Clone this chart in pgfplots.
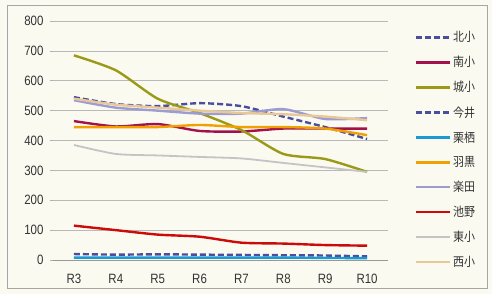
\documentclass[border=0pt]{standalone}
\usepackage{fontspec}
\setmainfont{Liberation Sans}[FakeStretch=0.85]
\newfontfamily\cjk{Noto Sans CJK JP}[FakeStretch=0.88]
\usepackage{pgfplots}
\pgfplotsset{compat=1.18}
\usetikzlibrary{backgrounds}
\definecolor{bgc}{HTML}{FBFAF1}
\definecolor{cNavy}{HTML}{4B4E9C}
\definecolor{cCrim}{HTML}{A3104C}
\definecolor{cOlive}{HTML}{9A9A18}
\definecolor{cCyan}{HTML}{1A9AD4}
\definecolor{cOrange}{HTML}{F0A000}
\definecolor{cLav}{HTML}{9C9CD2}
\definecolor{cRed}{HTML}{CC0A0A}
\definecolor{cGray}{HTML}{C4C4C4}
\definecolor{cTan}{HTML}{E8C898}
\begin{document}
\begin{tikzpicture}
\begin{axis}[
  name=ax,
  scale only axis, width=335pt, height=239pt,
  xmin=-0.5, xmax=7.5, ymin=0, ymax=800,
  axis x line*=bottom, axis y line*=left,
  xtick={0,...,7},
  xticklabels={R3,R4,R5,R6,R7,R8,R9,R10},
  major x tick style={draw=none},
  extra x ticks={-0.5,0.5,...,7.5},
  extra x tick labels={},
  extra x tick style={major tick length=5pt, tick style={draw=gray!80, line width=0.6pt}, grid=none},
  ytick={0,100,...,800},
  ymajorgrids,
  grid style={gray!55, line width=0.7pt},
  tick align=outside,
  y axis line style={draw=none},
  x axis line style={gray!80, line width=0.7pt},
  major y tick style={draw=gray!60, line width=0.6pt},
  major tick length=3pt,
  yticklabel style={font=\fontsize{13.5}{13.5}\selectfont, text=black!80, xshift=-3pt},
  xticklabel style={font=\fontsize{13.5}{13.5}\selectfont, text=black!80, yshift=-8pt},
  /pgf/number format/assume math mode=true,
  clip=false,
  every axis plot/.append style={line width=2.4pt, smooth, tension=0.4},
  legend style={at={(1.07,0.973)}, anchor=north west, draw=none, fill=none,
    font=\cjk\fontsize{12.5}{12.5}\selectfont, row sep=9.0pt, text=black!80},
  legend cell align=left,
  legend image code/.code={\draw[#1, smooth=false] (0pt,0pt) -- (34pt,0pt);},
]
\addplot[cNavy, dashed, dash pattern=on 6pt off 3pt] coordinates {(0,545)(1,522)(2,515)(3,525)(4,515)(5,480)(6,445)(7,405)};
\addlegendentry{北小}
\addplot[cCrim] coordinates {(0,465)(1,447)(2,455)(3,432)(4,430)(5,440)(6,440)(7,440)};
\addlegendentry{南小}
\addplot[cOlive] coordinates {(0,685)(1,635)(2,540)(3,492)(4,435)(5,355)(6,338)(7,295)};
\addlegendentry{城小}
\addplot[cNavy, dashed, dash pattern=on 6pt off 3pt] coordinates {(0,20)(1,18)(2,19)(3,18)(4,17)(5,16)(6,15)(7,12)};
\addlegendentry{今井}
\addplot[cCyan] coordinates {(0,8)(1,8)(2,8)(3,8)(4,8)(5,8)(6,7)(7,6)};
\addlegendentry{栗栖}
\addplot[cOrange] coordinates {(0,445)(1,445)(2,445)(3,452)(4,445)(5,445)(6,440)(7,418)};
\addlegendentry{羽黒}
\addplot[cLav] coordinates {(0,535)(1,510)(2,500)(3,490)(4,490)(5,505)(6,472)(7,475)};
\addlegendentry{楽田}
\addplot[cRed] coordinates {(0,115)(1,100)(2,85)(3,78)(4,58)(5,55)(6,50)(7,48)};
\addlegendentry{池野}
\addplot[cGray, line width=1.8pt] coordinates {(0,385)(1,355)(2,350)(3,345)(4,340)(5,325)(6,310)(7,295)};
\addlegendentry{東小}
\addplot[cTan] coordinates {(0,540)(1,520)(2,510)(3,500)(4,492)(5,488)(6,480)(7,468)};
\addlegendentry{西小}
\end{axis}
\pgfresetboundingbox
\begin{scope}[shift={(ax.south west)}, x=1pt, y=1pt]
\path[use as bounding box] (-53,-34) rectangle (439,260);
\draw[gray!70, line width=0.8pt] (-46,-28) rectangle (434,255);
\begin{scope}[on background layer]
\fill[bgc] (-53,-34) rectangle (439,260);
\end{scope}
\end{scope}
\end{tikzpicture}
\end{document}
